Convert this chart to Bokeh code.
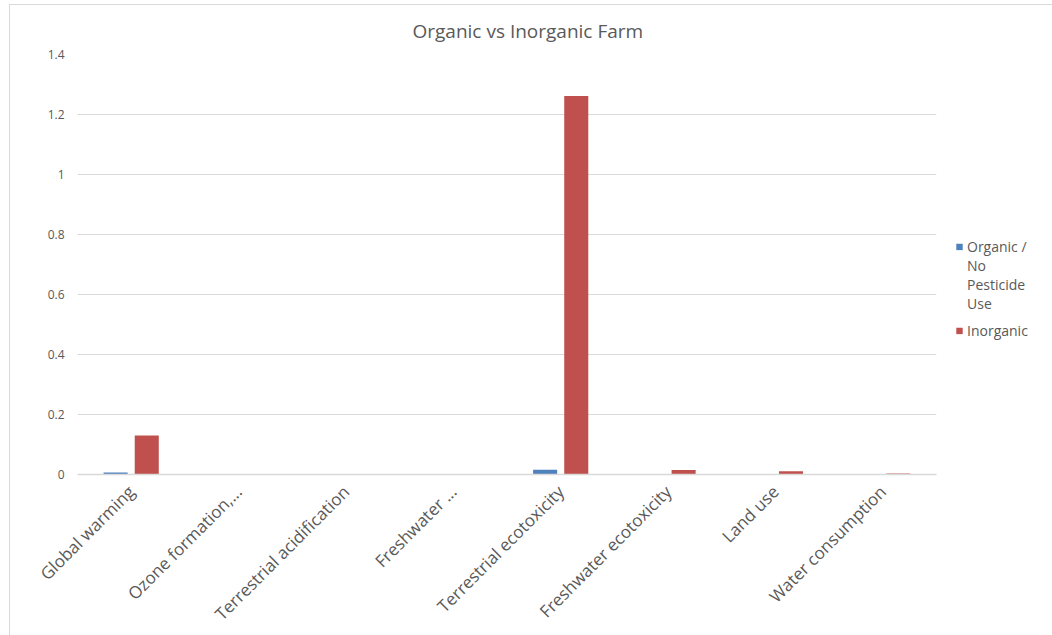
import math

from bokeh.plotting import figure
from bokeh.models import ColumnDataSource, Range1d, FixedTicker, Legend, LegendItem
from bokeh.transform import dodge
from bokeh.embed import file_html
from bokeh.resources import INLINE

# Impact categories and the two farming systems
categories = [
    "Global warming",
    "Ozone formation,...",
    "Terrestrial acidification",
    "Freshwater ...",
    "Terrestrial ecotoxicity",
    "Freshwater ecotoxicity",
    "Land use",
    "Water consumption",
]
organic = [0.007, 0.0, 0.0, 0.0, 0.016, 0.0, 0.0, 0.0]
inorganic = [0.13, 0.0, 0.0, 0.0, 1.262, 0.015, 0.011, 0.003]

y_ticks = [0, 0.2, 0.4, 0.6, 0.8, 1.0, 1.2, 1.4]
y_tick_labels = ["0", "0.2", "0.4", "0.6", "0.8", "1", "1.2", "1.4"]

BLUE = "#4F81BD"
RED = "#C0504D"
GRID = "#D9D9D9"
TEXT = "#595959"
FONT = "Open Sans"

source = ColumnDataSource(dict(cat=categories, organic=organic, inorganic=inorganic))

p = figure(
    x_range=categories,
    y_range=Range1d(0, 1.4),
    frame_width=859,
    frame_height=420,
    min_border_left=67,
    min_border_right=100,
    min_border_top=45,
    min_border_bottom=161,
    title="Organic vs Inorganic Farm",
    output_backend="svg",
    toolbar_location=None,
    styles={
        "margin-left": "9px",
        "margin-top": "4px",
        "border": "1px solid #D9D9D9",
        "border-bottom": "none",
    },
)

r_org = p.vbar(x=dodge("cat", -0.145, range=p.x_range), top="organic", width=0.224,
               source=source, fill_color=BLUE, line_color=None)
r_inorg = p.vbar(x=dodge("cat", 0.145, range=p.x_range), top="inorganic", width=0.224,
                 source=source, fill_color=RED, line_color=None)

# Title
p.title.text_font = FONT
p.title.text_font_size = "19px"
p.title.text_font_style = "normal"
p.title.text_color = TEXT
p.title.align = "left"
p.title.offset = 335
p.title.standoff = 21

p.outline_line_color = None
p.background_fill_color = "white"
p.border_fill_color = "white"

# Grid
p.xgrid.grid_line_color = None
p.ygrid.grid_line_color = GRID
p.ygrid.grid_line_width = 1
p.ygrid.ticker = FixedTicker(ticks=y_ticks)

# Y axis
p.yaxis.ticker = FixedTicker(ticks=y_ticks)
p.yaxis.major_label_overrides = {t: s for t, s in zip(y_ticks, y_tick_labels)}
p.yaxis.axis_line_color = None
p.yaxis.major_tick_line_color = None
p.yaxis.minor_tick_line_color = None
p.yaxis.major_tick_out = 0
p.yaxis.major_label_standoff = 13
p.yaxis.major_label_text_font = FONT
p.yaxis.major_label_text_font_size = "12px"
p.yaxis.major_label_text_color = TEXT

# X axis
p.xaxis.axis_line_color = GRID
p.xaxis.axis_line_width = 1.5
p.xaxis.major_tick_line_color = None
p.xaxis.minor_tick_line_color = None
p.xaxis.major_tick_out = 0
p.xaxis.major_label_orientation = math.pi / 4
p.xaxis.major_label_standoff = 14
p.xaxis.major_label_text_font = FONT
p.xaxis.major_label_text_font_size = "17px"
p.xaxis.major_label_text_color = TEXT

# Legend to the right of the plot area; the first series label wraps over
# several rows, with its swatch beside the first row. Blank rows at the top
# push the entries a little below the vertical centre.
blank_rows = [LegendItem(label="", renderers=[]) for _ in range(6)]
legend = Legend(
    items=blank_rows + [
        LegendItem(label="Organic /", renderers=[r_org]),
        LegendItem(label="No", renderers=[]),
        LegendItem(label="Pesticide", renderers=[]),
        LegendItem(label="Use", renderers=[]),
        LegendItem(label="", renderers=[]),
        LegendItem(label="Inorganic", renderers=[r_inorg]),
    ],
    location="center_left",
    orientation="vertical",
    padding=0,
    margin=19,
    spacing=0,
    glyph_width=8,
    glyph_height=8,
    label_standoff=4,
    label_text_font=FONT,
    label_text_font_size="14px",
    label_text_color=TEXT,
    border_line_color=None,
    background_fill_alpha=0,
)
p.add_layout(legend, "right")

with open("out.html", "w") as f:
    f.write(file_html(p, INLINE))
